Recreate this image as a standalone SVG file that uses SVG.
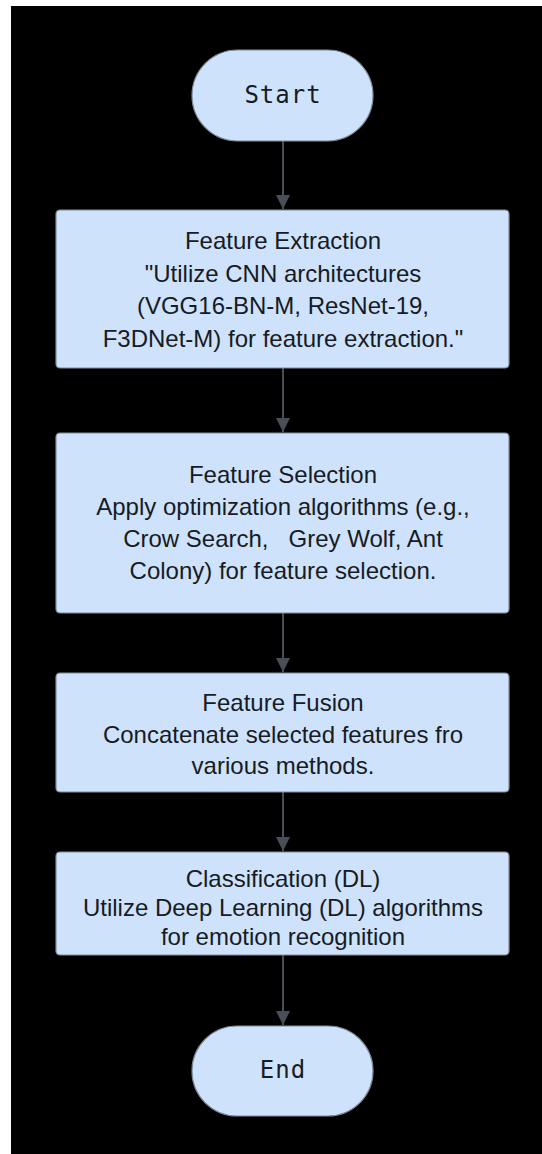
<svg xmlns="http://www.w3.org/2000/svg" width="542" height="1154" viewBox="0 0 542 1154">
<defs>
<style>
.box{fill:#cfe2fb;stroke:#7f8b99;stroke-width:1.2}
.t{font-family:"Liberation Sans",Arial,sans-serif;font-size:24px;fill:#161b24;text-anchor:middle;white-space:pre}
.m{font-family:"DejaVu Sans Mono",monospace;font-size:24px;fill:#161b24;text-anchor:middle;letter-spacing:1px}
.c{stroke:#4a4f57;stroke-width:2;fill:none}
</style>
<marker id="ah" viewBox="0 0 14 18" refX="14" refY="9" markerWidth="14" markerHeight="18" markerUnits="userSpaceOnUse" orient="auto">
<path d="M0,2 L14,9 L0,16 Z" fill="#4a4f57"/>
</marker>
</defs>
<rect x="0" y="0" width="542" height="1154" fill="#ffffff"/>
<rect x="11" y="6" width="531" height="1148" fill="#000000"/>
<g id="connectors">
<line class="c" x1="283" y1="141" x2="283" y2="209" marker-end="url(#ah)"/>
<line class="c" x1="283" y1="368" x2="283" y2="432" marker-end="url(#ah)"/>
<line class="c" x1="283" y1="613" x2="283" y2="672" marker-end="url(#ah)"/>
<line class="c" x1="283" y1="792" x2="283" y2="851" marker-end="url(#ah)"/>
<line class="c" x1="283" y1="955" x2="283" y2="1025" marker-end="url(#ah)"/>
</g>
<g id="start">
<rect class="box" x="192" y="50" width="181" height="91" rx="45.5"/>
<text class="m" x="283" y="103">Start</text>
</g>
<g id="extraction">
<rect class="box" x="56" y="210" width="453" height="158" rx="4"/>
<text class="t" x="283" y="249">Feature Extraction</text>
<text class="t" x="283" y="281.5">"Utilize CNN architectures</text>
<text class="t" x="283" y="314">(VGG16-BN-M, ResNet-19,</text>
<text class="t" x="283" y="346.5">F3DNet-M) for feature extraction."</text>
</g>
<g id="selection">
<rect class="box" x="56" y="433" width="453" height="180" rx="4"/>
<text class="t" x="283" y="483">Feature Selection</text>
<text class="t" x="283" y="515">Apply optimization algorithms (e.g.,</text>
<text class="t" x="283" y="547" xml:space="preserve">Crow Search,   Grey Wolf, Ant</text>
<text class="t" x="283" y="579">Colony) for feature selection.</text>
</g>
<g id="fusion">
<rect class="box" x="56" y="673" width="453" height="119" rx="4"/>
<text class="t" x="283" y="711">Feature Fusion</text>
<text class="t" x="283" y="743">Concatenate selected features fro</text>
<text class="t" x="283" y="774">various methods.</text>
</g>
<g id="classification">
<rect class="box" x="56" y="852" width="453" height="103" rx="4"/>
<text class="t" x="283" y="887">Classification (DL)</text>
<text class="t" x="283" y="916">Utilize Deep Learning (DL) algorithms</text>
<text class="t" x="283" y="945">for emotion recognition</text>
</g>
<g id="end">
<rect class="box" x="192" y="1026" width="181" height="90" rx="45"/>
<text class="m" x="283" y="1078">End</text>
</g>
</svg>
